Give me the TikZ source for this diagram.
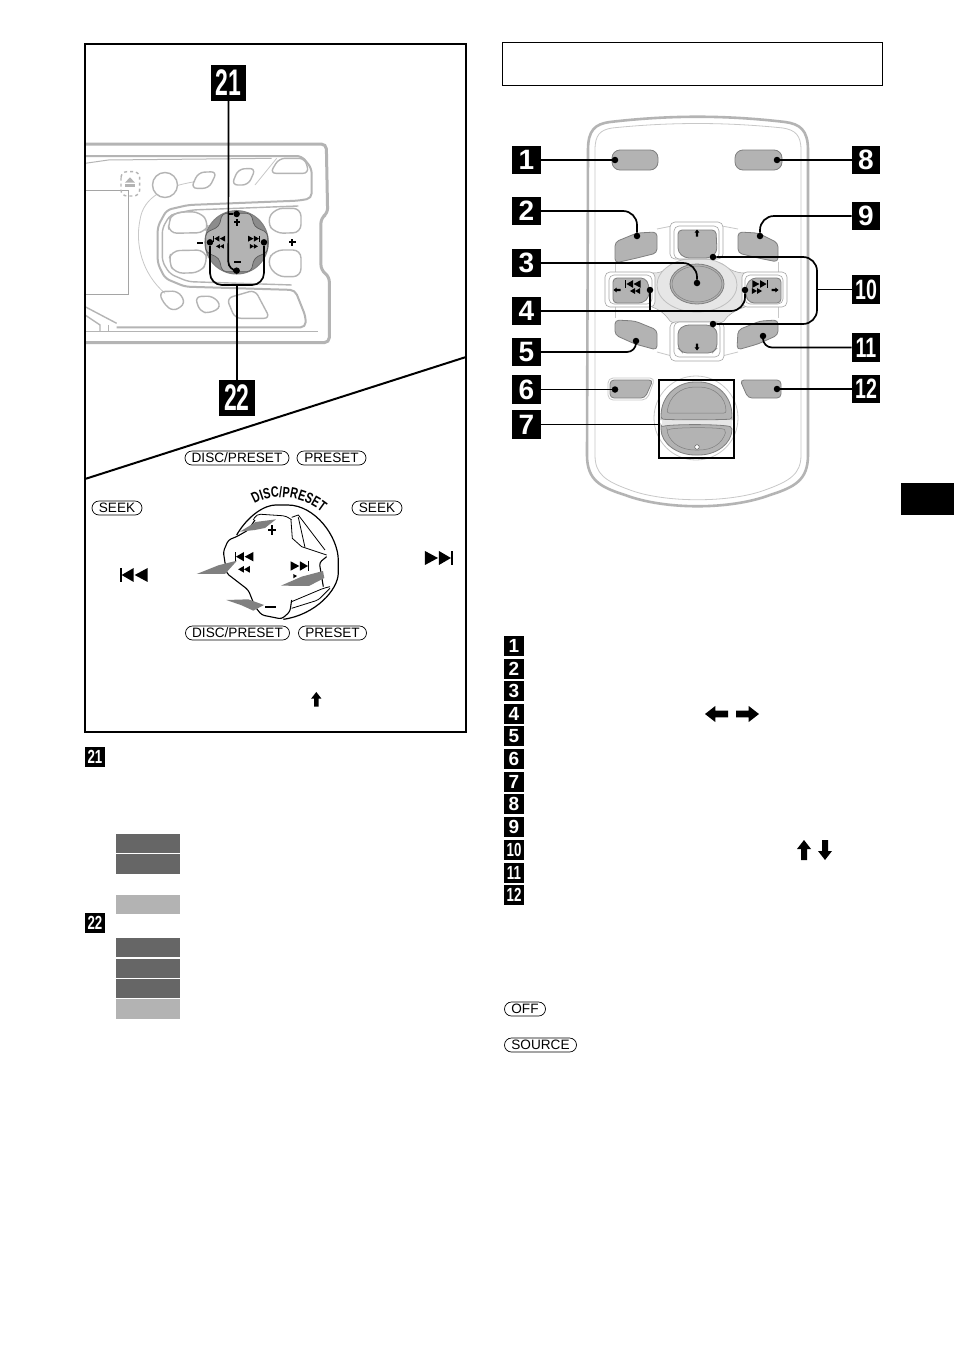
\documentclass[tikz,border=0pt]{standalone}
\usepackage{fontspec}
\setmainfont{Liberation Sans}
\newfontfamily\arcfont[FakeStretch=0.72]{Liberation Sans Bold}
\usetikzlibrary{shapes.misc,decorations.text}
\definecolor{keygrey}{HTML}{B3B3B3}
\definecolor{keyedge}{HTML}{7F7F7F}
\definecolor{bodygrey}{HTML}{B4B4B4}
\definecolor{thingrey}{HTML}{C8C8C8}
\definecolor{padgrey}{HTML}{E6E6E6}
\definecolor{barDark}{HTML}{666666}
\definecolor{barLight}{HTML}{B3B3B3}
\definecolor{pushgrey}{HTML}{808080}
\newcommand\nrw[2]{\scalebox{#1}[1]{#2}}
\tikzset{
  bigbadge/.style={fill=black,text=white,inner sep=0pt,minimum width=28.5pt,minimum height=28.5pt,font=\bfseries\fontsize{28}{28}\selectfont},
  hugebadge/.style={fill=black,text=white,inner sep=0pt,minimum width=35.5pt,minimum height=36pt,font=\bfseries\fontsize{37}{37}\selectfont},
  smallbadge/.style={fill=black,text=white,inner sep=0pt,minimum width=20pt,minimum height=20pt,font=\bfseries\fontsize{19}{19}\selectfont},
  keycap/.style={draw=black,line width=.7pt,rounded rectangle,inner sep=0pt,minimum height=14pt,font=\fontsize{13.6}{13.6}\selectfont},
  dotnode/.style={circle,fill=black,inner sep=0pt,minimum size=6.5pt},
  conn/.style={draw=black,line width=1.7pt},
  frameline/.style={draw=black,line width=2pt},
  key/.style={fill=keygrey,draw=keyedge,line width=.8pt,rounded corners=4pt},
  keyshell/.style={fill=white,draw=keyedge!70,line width=.6pt,rounded corners=5pt},
  bodyline/.style={draw=bodygrey,line width=2.6pt},
  devline/.style={draw=bodygrey,line width=1.4pt},
  devthin/.style={draw=thingrey,line width=.8pt},
  pushshape/.style={fill=pushgrey,draw=none},
  bar/.style={inner sep=0pt,minimum width=64pt},
  pics/skipb/.style={code={\fill (-14,-7) rectangle (-12,7);\fill (-12,0)--(0,-7)--(0,7)--cycle;\fill (1,0)--(14,-7)--(14,7)--cycle;}},
  pics/skipf/.style={code={\fill (14,-7) rectangle (12,7);\fill (12,0)--(0,-7)--(0,7)--cycle;\fill (-1,0)--(-14,-7)--(-14,7)--cycle;}},
  pics/rew/.style={code={\fill (-12,0)--(0,-7)--(0,7)--cycle;\fill (0,0)--(12,-7)--(12,7)--cycle;}},
  pics/ffw/.style={code={\fill (12,0)--(0,-7)--(0,7)--cycle;\fill (0,0)--(-12,-7)--(-12,7)--cycle;}},
  pics/uparrow/.style={code={\fill (0,-10)--(7,-1)--(3,-1)--(3,10)--(-3,10)--(-3,-1)--(-7,-1)--cycle;}},
}
\begin{document}
\begin{tikzpicture}[x=1pt,y=-1pt]
\useasboundingbox (0,0) rectangle (954,1352);
\fill[white] (0,0) rectangle (954,1352);

%% ---------- top-left panel: head unit ----------
\begin{scope}[shift={(85,130)},x=.3333pt,y=-.3333pt]
  \draw[bodyline,line width=3pt,rounded corners=5pt] (0,42)--(724,42)--(728,250)--(708,264)--(708,420)--(733,440)--(733,638)--(0,638);
  \draw[devline,line width=2pt,rounded corners=5pt] (0,78)--(650,78)--(680,115)--(680,205)--(640,212)--(310,225)--(245,240)--(218,290)--(218,400)--(240,445)--(300,470)--(630,480)--(662,560)--(662,592)--(95,592);
  \draw[devline,rounded corners=5pt] (640,228)--(320,240)--(255,255)--(232,295)--(232,395)--(255,432)--(310,455)--(620,465);
  \draw[devline] (0,605)--(700,605);
  \draw[devline] (0,530)--(95,580);
  \draw[devline] (0,555)--(45,585)--(45,605);
  \draw[devline] (70,585)--(70,605);
  \draw[devline,line width=1pt] (0,100)--(70,90)--(560,85);
  % screen
  \draw[devthin,draw=keyedge!70] (0,182)--(130,182)--(130,493)--(0,493);
  % eject
  \draw[devline,dashed,rounded corners=6pt] (108,125) rectangle (164,198);
  \fill[keygrey] (135,142)--(150,158)--(120,158)--cycle;
  \fill[keygrey] (120,163) rectangle (150,170);
  % big thin arc and round button
  \draw[devthin] (240,490) .. controls (170,430) and (150,340) .. (165,270) .. controls (175,200) and (240,170) .. (330,155);
  \draw[devline,fill=white] (240,165) circle[radius=12.5pt];
  % upper buttons
  \draw[devline,rounded corners=6pt] (340,127)--(396,125)--(372,175)--(318,175)--cycle;
  \draw[devline,rounded corners=6pt] (460,117)--(512,115)--(490,165)--(440,165)--cycle;
  \draw[devline,rounded corners=6pt] (555,130)--(582,85)--(660,85)--(672,130)--cycle;
  \draw[devthin] (510,165)--(575,85);
  % side buttons
  \draw[devline,rounded corners=8pt] (265,247)--(345,245)--(372,280)--(360,308)--(252,310)--(250,275)--cycle;
  \draw[devline,rounded corners=8pt] (260,362)--(360,360)--(368,395)--(345,428)--(270,430)--(250,395)--cycle;
  \draw[devline,rounded corners=8pt] (570,235)--(648,235)--(648,308)--(570,310)--(545,275)--cycle;
  \draw[devline,rounded corners=8pt] (570,360)--(648,360)--(648,440)--(575,440)--(545,395)--cycle;
  % lower buttons
  \draw[devline,rounded corners=6pt] (222,485)--(280,483)--(302,520)--(265,545)--(235,520)--cycle;
  \draw[devline,rounded corners=6pt] (330,500)--(385,498)--(410,530)--(375,550)--(345,545)--cycle;
  \draw[devline,rounded corners=6pt] (425,505)--(510,480)--(555,565)--(450,565)--cycle;
  % small + and -
  \fill (612,334) rectangle (633,340);
  \fill (619,326) rectangle (625,348);
  \fill (337,335) rectangle (353,341);
  % dial
  \draw[fill=keyedge!90,draw=keyedge,line width=1pt] (455,337) circle[radius=31.7pt];
  \draw[fill=keygrey,draw=keyedge!70!black,line width=.7pt,rounded corners=4pt] (412,250)--(498,250)--(508,290)--(548,308)--(548,366)--(508,384)--(498,425)--(412,425)--(402,384)--(362,366)--(362,308)--(402,290)--cycle;
  \fill (448,273) rectangle (465,279);
  \fill (453,266) rectangle (460,287);
  \fill (446,393) rectangle (467,399);
  \pic[scale=1.25] at (403,326) {skipb};
  \pic[scale=1] at (405,349) {rew};
  \pic[scale=1.25] at (507,326) {skipf};
  \pic[scale=1] at (507,349) {ffw};
  % connectors
  \node[dotnode] (d21t) at (455,252) {};
  \node[dotnode] (d21b) at (455,422) {};
  \node[dotnode] (d22l) at (375,337) {};
  \node[dotnode] (d22r) at (537,337) {};
  \coordinate (j21) at (430,252);
  \coordinate (c21) at (430,422);
  \coordinate (j22) at (456,465);
  \coordinate (c22l) at (375,465);
  \coordinate (c22r) at (537,465);
\end{scope}
\node[hugebadge] (b21) at (228.5,83) {\nrw{.62}{21}};
\node[hugebadge] (b22) at (237,398) {\nrw{.62}{22}};
\draw[conn] (j21)--(d21t);
\draw[conn,rounded corners=9pt] (b21.south)--(c21)--(d21b);
\draw[conn,rounded corners=12pt] (d22l)--(c22l)--(c22r)--(d22r);
\draw[conn] (b22.north)--(b22.north|-j22);

%% ---------- panel frame ----------
\draw[frameline] (85,44) rectangle (466,732);
\coordinate (diagL) at (85,479);
\coordinate (diagR) at (466,357);
\draw[frameline] (diagL)--(diagR);

%% ---------- key captions ----------
\node[keycap,minimum width=104pt] (kd1) at (237,458) {DISC/PRESET};
\node[keycap,minimum width=69pt] (kp1) at (331.5,458) {PRESET};
\node[keycap,minimum width=50pt] (ks1) at (117,508) {SEEK};
\node[keycap,minimum width=50pt] (ks2) at (377,508) {SEEK};
\node[keycap,minimum width=104pt] (kd2) at (237.5,633) {DISC/PRESET};
\node[keycap,minimum width=68pt] (kp2) at (332.5,633) {PRESET};
\node[keycap,minimum width=41pt] (koff) at (525,1009) {OFF};
\node[keycap,minimum width=72pt] (ksrc) at (540.5,1045) {SOURCE};

%% ---------- lower panel: dial sketch ----------
\begin{scope}[shift={(85,440)},x=.3333pt,y=-.3333pt]
  \draw[line width=1.2pt,fill=white,rounded corners=6pt] (455,285) .. controls (490,225) and (540,195) .. (590,195) .. controls (690,195) and (760,290) .. (760,380) .. controls (760,450) and (690,525) .. (595,538);
  \draw[line width=.8pt,rounded corners=4pt] (505,240)--(515,222)--(605,228)--(620,240);
  \draw[line width=.8pt] (620,232)--(640,225)--(720,330);
  \draw[line width=.8pt] (618,240)--(622,295)--(650,320)--(725,345);
  \draw[line width=.8pt] (640,232)--(660,322);
  \draw[line width=.8pt,rounded corners=3pt] (620,485)--(715,445)--(735,440);
  \draw[line width=.8pt,rounded corners=3pt] (620,505)--(700,480)--(735,445);
  \draw[line width=1.1pt,rounded corners=3pt] (510,240)--(490,270)--(455,290)--(430,300)--(415,335)--(425,400)--(490,450)--(510,500)--(530,525)--(590,537)--(615,515)--(620,480);
  \draw[line width=1.1pt,rounded corners=3pt] (725,350)--(703,368)--(715,440);
  \path[decorate,decoration={text along path,text align=center,text={|\arcfont\fontsize{15}{15}\selectfont|DISC/PRESET}}]
    (497,200) .. controls (555,155) and (655,165) .. (722,226);
  % push arrows
  \fill[pushshape] (465,275)--(512,246)--(573,238)--(540,264)--(510,270)--cycle;
  \fill[pushshape] (335,402)--(400,376)--(456,362)--(420,402)--cycle;
  \fill[pushshape] (588,437)--(650,410)--(714,393)--(718,414)--(672,438)--cycle;
  \fill[pushshape] (424,480)--(490,478)--(537,495)--(505,512)--(470,496)--cycle;
  % symbols
  \fill (548,266) rectangle (572,273);
  \fill (557,256) rectangle (564,284);
  \fill (540,498) rectangle (572,504);
  \pic[scale=2] at (477,350) {skipb};
  \pic[scale=1.45] at (477,388) {rew};
  \pic[scale=2] at (645,378) {skipf};
  \fill (625,402)--(636,408)--(625,415)--cycle;
  \pic[scale=3] at (146,405) {skipb};
  \pic[scale=3] at (1062,354) {skipf};
  \pic[scale=2.2] at (694,778) {uparrow};
\end{scope}

%% ---------- right panel ----------
\draw[black,line width=.8pt] (502,42) rectangle (882.5,85.5);

% remote body
\path[fill=white] (588,150) .. controls (588,130) and (595,124) .. (610,122) .. controls (670,115) and (725,115) .. (785,122) .. controls (800,124) and (808,130) .. (808,150)
  -- (808,455) .. controls (808,480) and (795,487) .. (770,495) .. controls (730,510) and (665,510) .. (625,495) .. controls (600,487) and (587,480) .. (587,455) -- cycle;
\draw[bodyline] (588,150) .. controls (588,130) and (595,124) .. (610,122) .. controls (670,115) and (725,115) .. (785,122) .. controls (800,124) and (808,130) .. (808,150)
  -- (808,455) .. controls (808,480) and (795,487) .. (770,495) .. controls (730,510) and (665,510) .. (625,495) .. controls (600,487) and (587,480) .. (587,455) -- cycle;
\draw[devthin] (595,150) .. controls (595,135) and (600,130) .. (612,128) .. controls (670,122) and (725,122) .. (783,128) .. controls (795,130) and (801,135) .. (801,150)
  -- (801,455) .. controls (801,474) and (790,481) .. (765,490) .. controls (730,503) and (665,503) .. (630,490) .. controls (605,481) and (595,474) .. (595,455) -- cycle;

% faint guide lines
\draw[devthin] (657,229) -- (672,226);
\draw[devthin] (722,226) -- (738,229);
\draw[devthin] (657,352) -- (672,356);
\draw[devthin] (722,356) -- (738,352);
\draw[devthin] (615,262)--(615,318);
\draw[devthin] (778,262)--(778,318);
\draw[devthin] (696,418) circle[radius=42pt];

% d-pad base
\path[fill=padgrey,draw=keyedge!70,line width=.5pt] (670,265) .. controls (680,258) and (714,258) .. (724,265) .. controls (732,272) and (740,273) .. (745,273) -- (745,307) .. controls (735,310) and (728,315) .. (724,321) .. controls (714,328) and (680,328) .. (670,321) .. controls (664,313) and (660,310) .. (652,307) -- (652,273) .. controls (660,273) and (664,272) .. (670,265) -- cycle;
\draw[devthin,draw=keyedge!50,fill=padgrey] (697,285) ellipse[x radius=40pt,y radius=27pt];

% d-pad keys
\path[keyshell] (670,222) rectangle (723,259);
\path[keyshell] (674,226) rectangle (719,259);
\path[key] (678,230)--(716,230)--(717,252)--(710,258)--(685,258)--(678,252)--cycle;
\path[keyshell] (670,322) rectangle (724,361);
\path[keyshell] (674,322) rectangle (720,357);
\path[key] (685,325)--(710,325)--(717,330)--(717,348)--(712,353)--(683,353)--(678,348)--(678,330)--cycle;
\path[keyshell] (605,272) rectangle (655,307);
\path[keyshell] (609,275) rectangle (652,304);
\path[key] (613,278)--(645,278)--(649,285)--(649,297)--(643,303)--(613,303)--cycle;
\path[keyshell] (742,272) rectangle (787,307);
\path[keyshell] (745,275) rectangle (783,304);
\path[key] (752,278)--(781,278)--(781,303)--(750,303)--(746,297)--(746,285)--cycle;

% center button
\path[fill=keygrey,draw=keyedge,line width=.8pt] (697,284) ellipse[x radius=27pt,y radius=20pt];
\draw[keyedge,line width=.5pt] (697,284) ellipse[x radius=25pt,y radius=18pt];

% corner and top buttons
\path[key,rounded corners=8pt] (612,150) rectangle (658,170);
\path[key,rounded corners=8pt] (735,150) rectangle (782,170);
\path[key] (615,242)--(637,233)--(657,232)--(657,253)--(637,258)--(615,263)--cycle;
\path[key] (738,232)--(758,233)--(778,243)--(778,262)--(758,258)--(738,253)--cycle;
\path[key] (615,320)--(635,321)--(657,330)--(657,350)--(635,344)--(615,335)--cycle;
\path[key] (778,320)--(760,321)--(738,330)--(737,350)--(758,344)--(778,335)--cycle;
\draw[devthin,rounded corners=5pt] (608,378)--(655,378)--(647,400)--(608,400)--cycle;
\path[key] (610,380)--(653,380)--(645,398)--(610,398)--cycle;
\path[key] (740,380)--(781,380)--(781,398)--(748,398)--cycle;

% volume rocker
\path[fill=padgrey] (662,410) rectangle (732,430);
\path[key,rounded corners=2pt] (661,418) .. controls (661,395) and (678,382) .. (697,382) .. controls (716,382) and (732,395) .. (732,418) -- (732,419) .. controls (720,420) and (670,420) .. (661,419) -- cycle;
\draw[keyedge,line width=.5pt,rounded corners=2pt] (667,413) .. controls (669,397) and (680,387) .. (697,387) .. controls (714,387) and (726,397) .. (726,413) -- cycle;
\path[key,rounded corners=2pt] (661,427) .. controls (670,424) and (720,424) .. (732,427) .. controls (732,444) and (716,455) .. (697,455) .. controls (678,455) and (661,444) .. (661,427) -- cycle;
\draw[keyedge,line width=.5pt,rounded corners=2pt] (667,431) .. controls (672,427) and (722,427) .. (726,431) .. controls (722,444) and (712,450) .. (697,450) .. controls (682,450) and (671,444) .. (667,431) -- cycle;
\draw[black!70,fill=white,line width=.4pt] (697,447) circle[radius=2.3pt];

% key symbols
\pic[scale=.35,rotate=0] at (697,233) {uparrow};
\pic[scale=.35,rotate=180] at (697,347) {uparrow};
\pic[scale=.35,rotate=90] at (617,290) {uparrow};
\pic[scale=.35,rotate=-90] at (775,290) {uparrow};
\pic[scale=.55] at (633,284) {skipb};
\pic[scale=.42] at (635,291) {rew};
\pic[scale=.55] at (760,284) {skipf};
\pic[scale=.42] at (757,291) {ffw};

% rocker frame
\node[draw=black,line width=1.5pt,inner sep=0pt,minimum width=75pt,minimum height=78pt] (box7) at (696.5,419) {};

% badges for the remote
\node[bigbadge] (b1) at (526.5,160) {1};
\node[bigbadge] (b2) at (526.5,211) {2};
\node[bigbadge] (b3) at (526.5,263) {3};
\node[bigbadge] (b4) at (526.5,311) {4};
\node[bigbadge] (b5) at (526.5,352) {5};
\node[bigbadge] (b6) at (526.5,389.5) {6};
\node[bigbadge] (b7) at (526.5,424.5) {7};
\node[bigbadge] (b8) at (866,160) {8};
\node[bigbadge] (b9) at (866,216) {9};
\node[bigbadge] (b10) at (866,289.5) {\nrw{.7}{10}};
\node[bigbadge] (b11) at (866,347.5) {\nrw{.7}{11}};
\node[bigbadge] (b12) at (866,389) {\nrw{.7}{12}};

% end dots
\node[dotnode] (d1) at (615,160) {};
\node[dotnode] (d8) at (777,160) {};
\node[dotnode] (d2) at (637,236) {};
\node[dotnode] (d9) at (760,236) {};
\node[dotnode] (d3) at (697,283) {};
\node[dotnode] (d4l) at (650,290) {};
\node[dotnode] (d4r) at (745,290) {};
\node[dotnode] (d10u) at (713,257) {};
\node[dotnode] (d10d) at (713,324) {};
\node[dotnode] (d5) at (636,341) {};
\node[dotnode] (d11) at (763,336) {};
\node[dotnode] (d6) at (615,389.5) {};
\node[dotnode] (d12) at (777,389) {};
\coordinate (c2) at (637,211);
\coordinate (c9) at (760,216);
\coordinate (c3) at (697,263);
\coordinate (c4) at (745,311);
\coordinate (c5) at (636,352);
\coordinate (c11) at (763,347.5);
\coordinate (c10a) at (817,257);
\coordinate (c10b) at (817,324);
\coordinate (j10) at (817,289.5);

% connectors
\draw[conn] (b1.east)--(d1);
\draw[conn] (b8.west)--(d8);
\draw[conn,rounded corners=14pt] (b2.east)--(c2)--(d2);
\draw[conn,rounded corners=14pt] (b9.west)--(c9)--(d9);
\draw[conn,rounded corners=14pt] (b3.east)--(c3)--(d3);
\draw[conn,rounded corners=14pt] (b4.east)--(c4)--(d4r);
\draw[conn] (d4l|-b4)--(d4l);
\draw[conn,rounded corners=14pt] (d10u)--(c10a)--(c10b)--(d10d);
\draw[conn] (j10)--(b10.west);
\draw[conn,rounded corners=9pt] (b5.east)--(c5)--(d5);
\draw[conn,rounded corners=9pt] (b11.west)--(c11)--(d11);
\draw[conn] (b6.east)--(d6);
\draw[conn] (b12.west)--(d12);
\draw[conn] (b7.east)--(b7.east-|box7.west);

%% ---------- list badges ----------
\node[smallbadge] (s1) at (514,646) {1};
\node[smallbadge] (s2) at (514,668.5) {2};
\node[smallbadge] (s3) at (514,691) {3};
\node[smallbadge] (s4) at (514,714) {4};
\node[smallbadge] (s5) at (514,736) {5};
\node[smallbadge] (s6) at (514,759) {6};
\node[smallbadge] (s7) at (514,782) {7};
\node[smallbadge] (s8) at (514,804) {8};
\node[smallbadge] (s9) at (514,827) {9};
\node[smallbadge] (s10) at (514,850) {\nrw{.7}{10}};
\node[smallbadge] (s11) at (514,873) {\nrw{.7}{11}};
\node[smallbadge] (s12) at (514,895) {\nrw{.7}{12}};
\node[smallbadge] (s21) at (95,757) {\nrw{.7}{21}};
\node[smallbadge] (s22) at (95,923) {\nrw{.7}{22}};

\pic[scale=1.15,rotate=90] at (716.5,714) {uparrow};
\pic[scale=1.15,rotate=-90] at (747.5,714) {uparrow};
\pic[scale=1] at (804,850) {uparrow};
\pic[scale=1,rotate=180] at (825,850) {uparrow};

%% ---------- grey bars ----------
\node[bar,fill=barDark,minimum height=19pt] (g1) at (148,843.5) {};
\node[bar,fill=barDark,minimum height=20pt] (g2) at (148,864) {};
\node[bar,fill=barLight,minimum height=19pt] (g3) at (148,904.5) {};
\node[bar,fill=barDark,minimum height=19pt] (g4) at (148,947.5) {};
\node[bar,fill=barDark,minimum height=19pt] (g5) at (148,968.5) {};
\node[bar,fill=barDark,minimum height=19pt] (g6) at (148,988.5) {};
\node[bar,fill=barLight,minimum height=20pt] (g7) at (148,1009) {};

%% ---------- thumb tab ----------
\fill[black] (901,483) rectangle (954,515);
\end{tikzpicture}
\end{document}
